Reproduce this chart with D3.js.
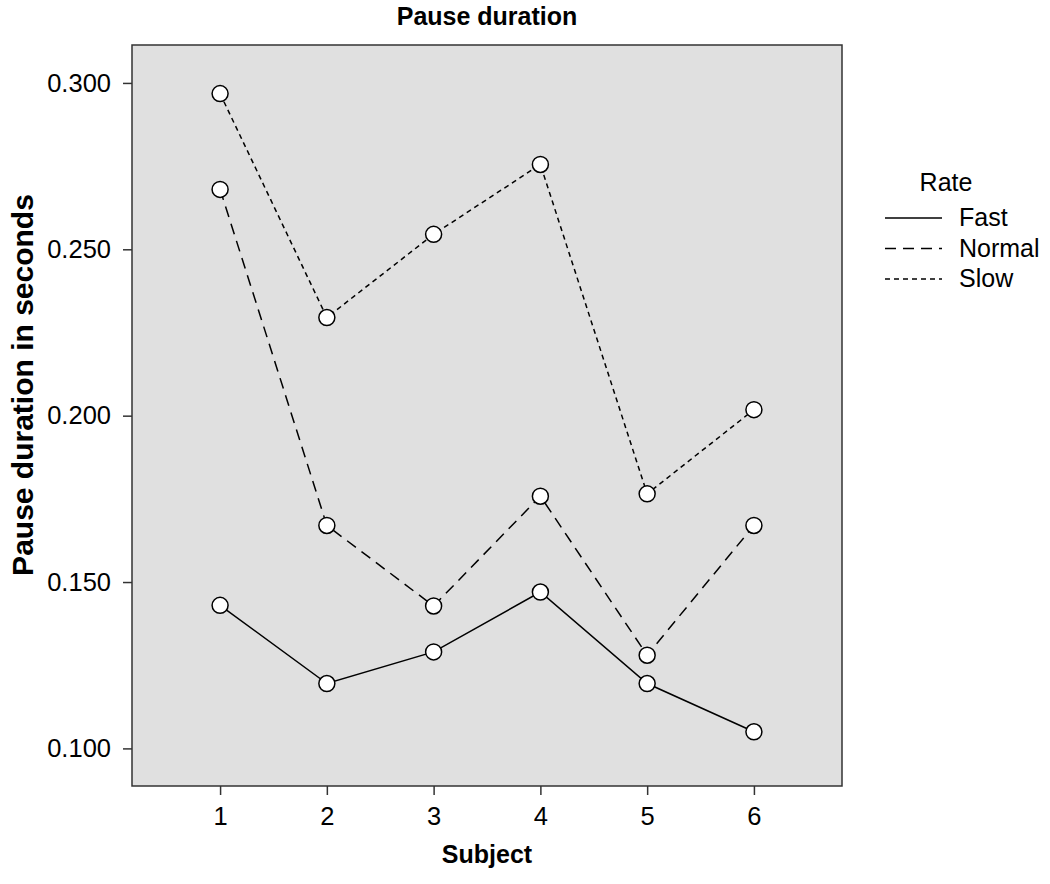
<!DOCTYPE html>
<html>
<head>
<meta charset="utf-8">
<script src="https://cdn.jsdelivr.net/npm/d3@7/dist/d3.min.js"></script>
<style>
  body { margin: 0; background: #fff; }
  text { font-family: "Liberation Sans", Arial, sans-serif; fill: #000; }
  .title { font-size: 25px; font-weight: bold; }
  .axis-label { font-size: 25px; font-weight: bold; }
  .y-label { font-size: 30px; }
  .tick text { font-size: 25.5px; }
  .legend text { font-size: 25px; }
</style>
</head>
<body>
<svg width="1050" height="884"></svg>
<script>
const subjects = [1, 2, 3, 4, 5, 6];
const rates = ['Fast', 'Normal', 'Slow'];
const fastValues = [0.143, 0.1195, 0.129, 0.147, 0.1195, 0.105];
const normalValues = [0.268, 0.167, 0.1428, 0.1758, 0.128, 0.167];
const slowValues = [0.2968, 0.2295, 0.2545, 0.2755, 0.1765, 0.2018];
const yTicks = [0.100, 0.150, 0.200, 0.250, 0.300];

const dashes = { Fast: null, Normal: '11,7', Slow: '5,4' };
const series = [fastValues, normalValues, slowValues]
    .map((values, i) => ({ rate: rates[i], values, dash: dashes[rates[i]] }));

const svg = d3.select('svg');
const margin = { top: 45, left: 132, right: 208, bottom: 98 };
const width = +svg.attr('width');
const height = +svg.attr('height');
const innerWidth = width - margin.left - margin.right;
const innerHeight = height - margin.top - margin.bottom;

const xScale = d3.scaleLinear()
    .domain([0.175, 6.825])
    .range([0, innerWidth]);

const yScale = d3.scaleLinear()
    .domain([0.0887, 0.3114])
    .range([innerHeight, 0]);

const g = svg.append('g')
    .attr('transform', `translate(${margin.left},${margin.top})`);

g.append('rect')
    .attr('width', innerWidth)
    .attr('height', innerHeight)
    .attr('fill', '#e0e0e0');

const xAxis = d3.axisBottom(xScale)
    .tickValues(subjects)
    .tickFormat(d3.format('d'))
    .tickSizeOuter(0)
    .tickSize(9)
    .tickPadding(12);

const yAxis = d3.axisLeft(yScale)
    .tickValues(yTicks)
    .tickFormat(d3.format('.3f'))
    .tickSizeOuter(0)
    .tickSize(9)
    .tickPadding(12);

const xAxisG = g.append('g')
    .attr('transform', `translate(0,${innerHeight})`)
    .call(xAxis);
const yAxisG = g.append('g').call(yAxis);

[xAxisG, yAxisG].forEach(a => {
    a.attr('font-size', null);
    a.select('.domain').remove();
    a.selectAll('.tick line').attr('stroke', '#333').attr('stroke-width', 1.5);
});

g.append('rect')
    .attr('width', innerWidth)
    .attr('height', innerHeight)
    .attr('fill', 'none')
    .attr('stroke', '#333')
    .attr('stroke-width', 1.5);

const line = d3.line()
    .x((d, i) => xScale(subjects[i]))
    .y(d => yScale(d));

series.forEach(s => {
    g.append('path')
        .datum(s.values)
        .attr('fill', 'none')
        .attr('stroke', '#000')
        .attr('stroke-width', 1.5)
        .attr('stroke-dasharray', s.dash)
        .attr('d', line);
});

series.forEach(s => {
    g.selectAll(null).data(s.values)
        .enter().append('circle')
            .attr('cx', (d, i) => xScale(subjects[i]))
            .attr('cy', d => yScale(d))
            .attr('r', 8)
            .attr('fill', '#fff')
            .attr('stroke', '#000')
            .attr('stroke-width', 1.5);
});

svg.append('text')
    .attr('class', 'title')
    .attr('x', margin.left + innerWidth / 2)
    .attr('y', 25)
    .attr('text-anchor', 'middle')
    .text('Pause duration');

svg.append('text')
    .attr('class', 'axis-label')
    .attr('x', margin.left + innerWidth / 2)
    .attr('y', 863)
    .attr('text-anchor', 'middle')
    .text('Subject');

svg.append('text')
    .attr('class', 'axis-label y-label')
    .attr('transform', 'translate(33,385) rotate(-90)')
    .attr('text-anchor', 'middle')
    .text('Pause duration in seconds');

const legend = svg.append('g').attr('class', 'legend')
    .attr('transform', 'translate(885,0)');

legend.append('text')
    .attr('x', 61)
    .attr('y', 191)
    .attr('text-anchor', 'middle')
    .text('Rate');

series.forEach((s, i) => {
    const y = 218 + i * 30.5;
    legend.append('line')
        .attr('x1', 0).attr('x2', 57)
        .attr('y1', y).attr('y2', y)
        .attr('stroke', '#000')
        .attr('stroke-width', 1.5)
        .attr('stroke-dasharray', s.dash);
    legend.append('text')
        .attr('x', 74)
        .attr('y', y + 8)
        .text(s.rate);
});
</script>
</body>
</html>
